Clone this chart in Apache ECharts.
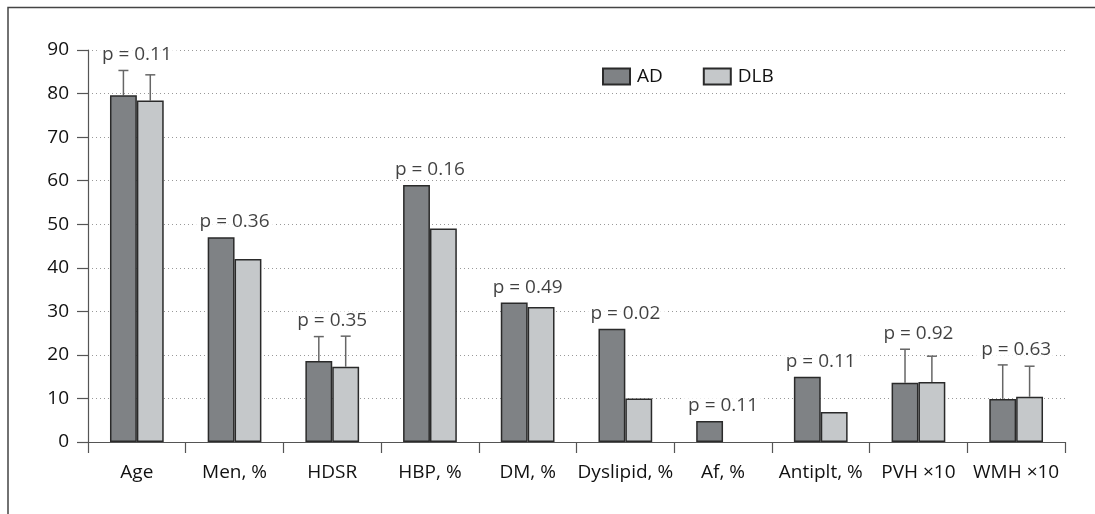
<!DOCTYPE html>
<html>
<head>
<meta charset="utf-8">
<script src="https://cdn.jsdelivr.net/npm/echarts@6/dist/echarts.min.js"></script>
<style>
html,body{margin:0;padding:0;background:#fff;}
#chart{width:1095px;height:514px;}
</style>
</head>
<body>
<div id="chart"></div>
<script>
var categories = ['Age', 'Men, %', 'HDSR', 'HBP, %', 'DM, %', 'Dyslipid, %', 'Af, %', 'Antiplt, %', 'PVH \u00d710', 'WMH \u00d710'];
var adValues = [79.6, 47, 18.6, 59, 32, 26, 4.8, 15, 13.6, 9.9];
var dlbValues = [78.4, 42, 17.3, 49, 31, 10, 0, 6.9, 13.8, 10.4];
var adErrors = [5.7, null, 5.6, null, null, null, null, null, 7.7, 7.8];
var dlbErrors = [5.9, null, 7.0, null, null, null, null, null, 5.9, 7.0];
var pValues = ['0.11', '0.36', '0.35', '0.16', '0.49', '0.02', '0.11', '0.11', '0.92', '0.63'];
var yTicks = [0, 10, 20, 30, 40, 50, 60, 70, 80, 90];

var FONT = '"Open Sans", "Noto Sans", sans-serif';
var TXT = '#111';
var FW = 500;
var GAP = 0.45;

function barData(vals) {
  return vals.map(function (v) {
    return v === 0 ? { value: v, itemStyle: { borderWidth: 0 } } : v;
  });
}

var errData = [];
categories.forEach(function (c, i) {
  if (adErrors[i] != null) errData.push([i, adValues[i], adValues[i] + adErrors[i], -1]);
  if (dlbErrors[i] != null) errData.push([i, dlbValues[i], dlbValues[i] + dlbErrors[i], 1]);
});

var pData = categories.map(function (c, i) {
  var a = adValues[i] + (adErrors[i] || 0);
  var b = dlbValues[i] + (dlbErrors[i] || 0);
  return [i, Math.max(a, b)];
});

var chart = echarts.init(document.getElementById('chart'));
chart.setOption({
  animation: false,
  backgroundColor: '#fff',
  textStyle: { fontFamily: FONT },
  graphic: [{
    type: 'polyline',
    shape: { points: [[8, 514], [8, 7.5], [1095, 7.5]] },
    style: { stroke: '#444', lineWidth: 1.5, fill: null },
    z: 0
  }],
  legend: {
    left: 597, top: 62,
    itemWidth: 27, itemHeight: 16, itemGap: 40,
    icon: 'rect',
    textStyle: { fontFamily: FONT, fontSize: 19, fontWeight: FW, color: TXT, padding: [0, 0, 0, 2] },
    data: ['AD', 'DLB']
  },
  grid: { left: 88, right: 30, top: 50, bottom: 72 },
  xAxis: {
    type: 'category',
    data: categories,
    axisLine: { lineStyle: { color: '#555', width: 1.2 } },
    axisTick: { show: true, length: 11, lineStyle: { color: '#555', width: 1.2 } },
    axisLabel: { color: TXT, fontSize: 19, fontWeight: FW, fontFamily: FONT, margin: 21, interval: 0 }
  },
  yAxis: {
    type: 'value',
    min: 0, max: 90, interval: 10,
    axisLine: { show: true, lineStyle: { color: '#555', width: 1.2 } },
    axisTick: { show: true, length: 11, lineStyle: { color: '#555', width: 1.2 } },
    axisLabel: {
      color: TXT, fontSize: 19, fontWeight: FW, fontFamily: FONT, margin: 19,
      formatter: function (v) { return yTicks.indexOf(v) >= 0 ? String(v) : ''; }
    },
    splitLine: { show: true, lineStyle: { color: '#999', type: [1, 3], width: 1 } }
  },
  series: [
    {
      name: 'AD', type: 'bar', data: barData(adValues),
      barGap: '0%', barCategoryGap: (GAP * 100) + '%',
      itemStyle: { color: '#7f8285', borderColor: '#2a2a2a', borderWidth: 1.5 },
      z: 3
    },
    {
      name: 'DLB', type: 'bar', data: barData(dlbValues),
      barGap: '0%', barCategoryGap: (GAP * 100) + '%',
      itemStyle: { color: '#c5c8ca', borderColor: '#2a2a2a', borderWidth: 1.5 },
      z: 3
    },
    {
      type: 'custom',
      data: errData,
      z: 2,
      silent: true,
      renderItem: function (params, api) {
        var cat = api.value(0);
        var bw = api.size([1, 0])[0];
        var barW = bw * (1 - GAP) / 2;
        var side = api.value(3);
        var base = api.coord([cat, api.value(1)]);
        var top = api.coord([cat, api.value(2)]);
        var x = base[0] + side * barW / 2;
        var cap = 5;
        var st = { stroke: '#666', lineWidth: 1.5 };
        return {
          type: 'group',
          children: [
            { type: 'line', shape: { x1: x, y1: base[1], x2: x, y2: top[1] }, style: st },
            { type: 'line', shape: { x1: x - cap, y1: top[1], x2: x + cap, y2: top[1] }, style: st }
          ]
        };
      }
    },
    {
      type: 'scatter',
      data: pData,
      symbolSize: 0,
      silent: true,
      z: 4,
      label: {
        show: true, position: 'top', distance: 6,
        fontFamily: FONT, fontSize: 19, fontWeight: FW, color: TXT,
        backgroundColor: '#fff', padding: [0, 5],
        formatter: function (p) { return 'p = ' + pValues[p.dataIndex]; }
      }
    }
  ]
});
</script>
</body>
</html>
